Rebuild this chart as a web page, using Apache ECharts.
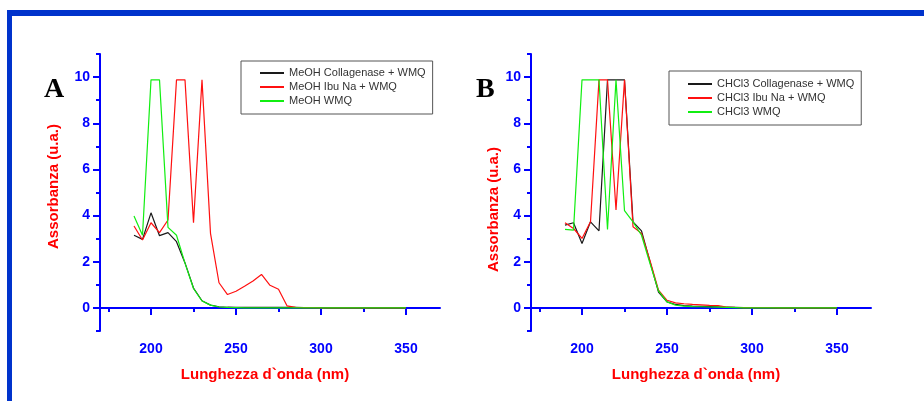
<!DOCTYPE html>
<html>
<head>
<meta charset="utf-8">
<script src="https://cdn.jsdelivr.net/npm/echarts@6/dist/echarts.min.js"></script>
<style>
html,body{margin:0;padding:0;background:#fff;}
#c{width:924px;height:401px;}
</style>
</head>
<body>
<div id="c"></div>
<script>
// Wavelengths (nm)
var wavelengths = [190,195,200,205,210,215,220,225,230,235,240,245,250,255,260,265,270,275,280,285,290,295,300,305,310,315,320,325,330,335,340,345,350];

// Panel A (MeOH)
var meohCollagenase = [3.15,2.97,4.12,3.13,3.26,2.87,1.95,0.86,0.31,0.12,0.05,0.03,0.02,0.02,0.02,0.02,0.02,0.02,0.02,0.02,0.01,0.01,0.01,0,0,0,0,0,0,0,0,0,0];
var meohIbuNa = [3.55,2.94,3.69,3.26,3.81,9.88,9.88,3.69,9.88,3.23,1.09,0.58,0.72,0.94,1.17,1.45,0.98,0.81,0.09,0.02,0.01,0.01,0,0,0,0,0,0,0,0,0,0,0];
var meohWMQ = [3.98,3.15,9.88,9.88,3.49,3.15,1.94,0.84,0.30,0.12,0.04,0.02,0.01,0,0,0,0,0,0,0,0,0,0,0,0,0,0,0,0,0,0,0,0];

// Panel B (CHCl3)
var chcl3Collagenase = [3.59,3.69,2.79,3.73,3.34,9.88,9.88,9.88,3.73,3.34,2.00,0.69,0.26,0.15,0.10,0.08,0.07,0.06,0.05,0.03,0.02,0.01,0.01,0.01,0.01,0,0,0,0,0,0,0,0];
var chcl3IbuNa = [3.69,3.44,3.01,3.73,9.88,9.88,4.24,9.88,3.52,3.23,2.05,0.77,0.33,0.22,0.18,0.15,0.13,0.11,0.10,0.04,0.02,0.01,0.01,0.01,0.01,0,0,0,0,0,0,0,0];
var chcl3WMQ = [3.40,3.37,9.88,9.88,9.88,3.40,9.88,4.21,3.73,3.15,1.92,0.74,0.26,0.12,0.08,0.06,0.05,0.04,0.03,0.02,0.01,0,0,0,0,0,0,0,0,0,0,0,0];

// Tick values
var xMajorTicks = [200,250,300,350];
var xMinorTicks = [175,225,275,325];
var yMajorTicks = [0,2,4,6,8,10];
var yMinorTicks = [-1,1,3,5,7,9,11];

var namesA = ['MeOH Collagenase + WMQ','MeOH Ibu Na + WMQ','MeOH WMQ'];
var namesB = ['CHCl3 Collagenase + WMQ','CHCl3 Ibu Na + WMQ','CHCl3 WMQ'];
var colors = ['#1a1a1a','#ff1010','#11ee11'];

function pairs(ys){ return wavelengths.map(function(x,i){ return [x, ys[i]]; }); }

var AX = '#0000ff';
var lblStyle = {color:AX, fontWeight:'bold', fontSize:14, fontFamily:'Liberation Sans, Arial, sans-serif'};
var nameStyle = {color:'#ff0000', fontWeight:'bold', fontSize:15, fontFamily:'Liberation Sans, Arial, sans-serif'};

function xAxes(grid){
  return [
    {gridIndex:grid, type:'value', min:170, max:370, position:'bottom',
     name:'Lunghezza d`onda (nm)', nameLocation:'middle', nameGap:36,
     nameTextStyle: Object.assign({padding:[0,10,0,0]}, nameStyle),
     axisLine:{show:true, lineStyle:{color:AX, width:2}},
     axisTick:{show:true, length:7, lineStyle:{color:AX, width:2}, customValues:xMajorTicks},
     axisLabel:Object.assign({margin:11, customValues:xMajorTicks}, lblStyle),
     splitLine:{show:false}},
    {gridIndex:grid, type:'value', min:170, max:370, position:'bottom',
     axisLine:{show:false},
     axisTick:{show:true, length:4, lineStyle:{color:AX, width:2}, customValues:xMinorTicks},
     axisLabel:{show:false}, splitLine:{show:false}}
  ];
}
function yAxes(grid, nameGap, namePad){
  return [
    {gridIndex:grid, type:'value', min:-1, max:11, position:'left',
     name:'Assorbanza (u.a.)', nameLocation:'middle', nameGap:nameGap,
     nameTextStyle: Object.assign({padding:namePad}, nameStyle),
     axisLine:{show:true, lineStyle:{color:AX, width:2}},
     axisTick:{show:true, length:7, lineStyle:{color:AX, width:2}, customValues:yMajorTicks},
     axisLabel:Object.assign({margin:10, customValues:yMajorTicks}, lblStyle),
     splitLine:{show:false}},
    {gridIndex:grid, type:'value', min:-1, max:11, position:'left',
     axisLine:{show:false},
     axisTick:{show:true, length:4, lineStyle:{color:AX, width:2}, customValues:yMinorTicks},
     axisLabel:{show:false}, splitLine:{show:false}}
  ];
}

function mkSeries(name, ys, color, xi, yi){
  return {name:name, type:'line', data:pairs(ys), xAxisIndex:xi, yAxisIndex:yi,
    showSymbol:false, symbol:'none', smooth:false, animation:false,
    lineStyle:{color:color, width:1.2}, itemStyle:{color:color}};
}

var legendCommon = {orient:'vertical', itemGap:0, itemWidth:24, itemHeight:2, icon:'rect',
  borderColor:'#555', borderWidth:1, backgroundColor:'#fff',
  textStyle:{fontSize:11, color:'#333', fontFamily:'Liberation Sans, Arial, sans-serif', lineHeight:14}};

var option = {
  animation:false,
  backgroundColor:'#ffffff',
  grid:[
    {left:100, top:54, width:340, height:277},
    {left:531, top:54, width:340, height:277}
  ],
  xAxis: xAxes(0).concat(xAxes(1)),
  yAxis: yAxes(0, 39, [0,0,0,12]).concat(yAxes(1, 29, [0,34,0,0])),
  legend:[
    Object.assign({left:241, top:61, padding:[5,7,6,19], data:namesA}, legendCommon),
    Object.assign({left:669, top:71, padding:[6,7,6,19], data:namesB}, legendCommon)
  ],
  series:[
    mkSeries(namesA[0], meohCollagenase, colors[0], 0, 0),
    mkSeries(namesA[1], meohIbuNa, colors[1], 0, 0),
    mkSeries(namesA[2], meohWMQ, colors[2], 0, 0),
    mkSeries(namesB[0], chcl3Collagenase, colors[0], 2, 2),
    mkSeries(namesB[1], chcl3IbuNa, colors[1], 2, 2),
    mkSeries(namesB[2], chcl3WMQ, colors[2], 2, 2)
  ],
  graphic:[
    {type:'rect', left:7, top:10, shape:{width:917, height:6}, style:{fill:'#0033cc'}, silent:true},
    {type:'rect', left:7, top:10, shape:{width:5, height:391}, style:{fill:'#0033cc'}, silent:true},
    {type:'text', left:44, top:76, style:{text:'A', font:'bold 28px "Liberation Serif", "Times New Roman", serif', fill:'#000'}},
    {type:'text', left:476, top:76, style:{text:'B', font:'bold 28px "Liberation Serif", "Times New Roman", serif', fill:'#000'}}
  ]
};

var chart = echarts.init(document.getElementById('c'), null, {renderer:'canvas'});
chart.setOption(option);
</script>
</body>
</html>
